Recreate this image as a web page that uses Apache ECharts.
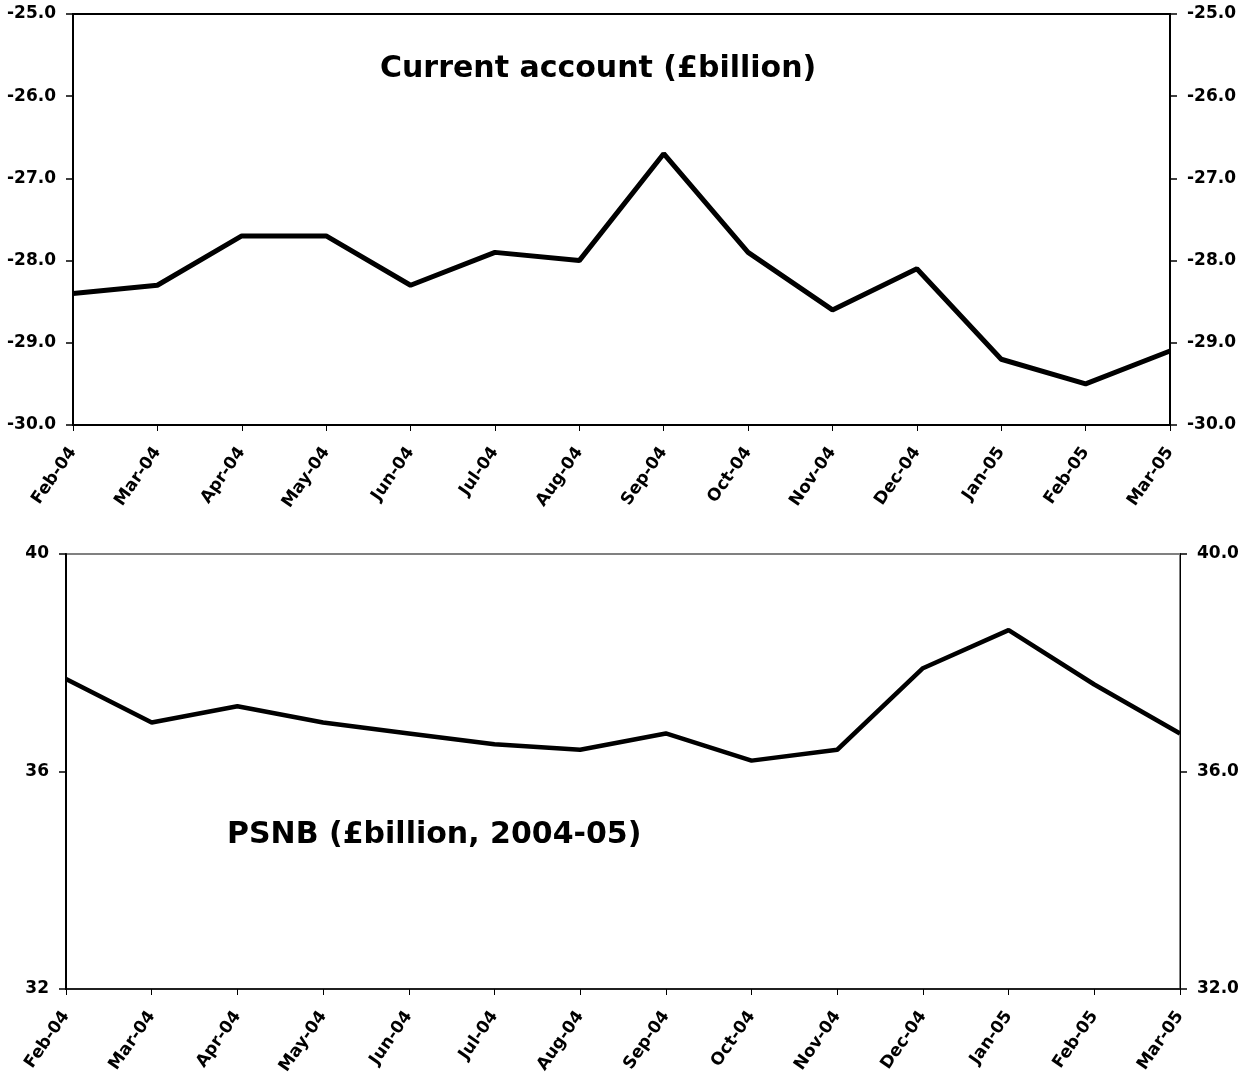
<!DOCTYPE html>
<html style="height: 100%">
<head>
    <meta charset="utf-8">
    <title>Current account and PSNB</title>
    <script src="https://cdn.jsdelivr.net/npm/echarts@6/dist/echarts.min.js"></script>
</head>
<body style="height: 100%; margin: 0; background: #fff">
<div id="main" style="width: 1250px; height: 1078px"></div>
<script type="text/javascript">

    // months shared by both panels
    var months = ['Feb-04', 'Mar-04', 'Apr-04', 'May-04', 'Jun-04', 'Jul-04', 'Aug-04',
        'Sep-04', 'Oct-04', 'Nov-04', 'Dec-04', 'Jan-05', 'Feb-05', 'Mar-05'];

    // current account, £billion
    var currentAccount = [-28.4, -28.3, -27.7, -27.7, -28.3, -27.9, -28.0,
        -26.7, -27.9, -28.6, -28.1, -29.2, -29.5, -29.1];

    // PSNB, £billion
    var psnb = [37.7, 36.9, 37.2, 36.9, 36.7, 36.5, 36.4,
        36.7, 36.2, 36.4, 37.9, 38.6, 37.6, 36.7];

    var font = 'DejaVu Sans, Arial, sans-serif';
    var labelStyle = { color: '#000', fontFamily: font, fontWeight: 'bold', fontSize: 17 };

    var myChart = echarts.init(document.getElementById('main'));

    function xAxisFor(gridIndex, lineWidth) {
        return {
            type: 'category',
            gridIndex: gridIndex,
            data: months,
            boundaryGap: false,
            axisLine: { lineStyle: { color: '#000', width: lineWidth } },
            axisTick: { show: true, length: 6, interval: 0, lineStyle: { color: '#000', width: 1 } },
            axisLabel: Object.assign({ interval: 0, rotate: 55, margin: 24 }, labelStyle),
            splitLine: { show: false }
        };
    }

    function yAxisFor(gridIndex, pos, min, max, interval, digits, lineWidth) {
        return {
            type: 'value',
            gridIndex: gridIndex,
            position: pos,
            min: min,
            max: max,
            interval: interval,
            axisLine: { show: true, lineStyle: { color: '#000', width: lineWidth } },
            axisTick: { show: true, length: 7, lineStyle: { color: '#000', width: 1.5 } },
            axisLabel: Object.assign({
                margin: 17,
                formatter: function (v) { return v.toFixed(digits); }
            }, labelStyle),
            splitLine: { show: false }
        };
    }

    option = {
        animation: false,
        backgroundColor: '#fff',
        title: [
            {
                text: 'Current account (£billion)',
                left: 375, top: 49,
                textStyle: { color: '#000', fontFamily: font, fontWeight: 'bold', fontSize: 30 }
            },
            {
                text: 'PSNB (£billion, 2004-05)',
                left: 222, top: 815,
                textStyle: { color: '#000', fontFamily: font, fontWeight: 'bold', fontSize: 30 }
            }
        ],
        grid: [
            { left: 73, right: 80, top: 14, height: 411, show: true, borderColor: '#000', borderWidth: 2 },
            { left: 66, right: 70, top: 554, height: 435, show: true, borderColor: '#808080', borderWidth: 2 }
        ],
        xAxis: [xAxisFor(0, 2), xAxisFor(1, 1.5)],
        yAxis: [
            yAxisFor(0, 'left', -30, -25, 1, 1, 2),
            yAxisFor(0, 'right', -30, -25, 1, 1, 2),
            yAxisFor(1, 'left', 32, 40, 4, 0, 2),
            yAxisFor(1, 'right', 32, 40, 4, 1, 1)
        ],
        series: [
            {
                name: 'Current account',
                type: 'line',
                xAxisIndex: 0,
                yAxisIndex: 0,
                data: currentAccount,
                showSymbol: false,
                lineStyle: { color: '#000', width: 5 }
            },
            {
                name: 'PSNB',
                type: 'line',
                xAxisIndex: 1,
                yAxisIndex: 2,
                data: psnb,
                showSymbol: false,
                lineStyle: { color: '#000', width: 4.5 }
            }
        ]
    };

    myChart.setOption(option);
</script>
</body>
</html>
